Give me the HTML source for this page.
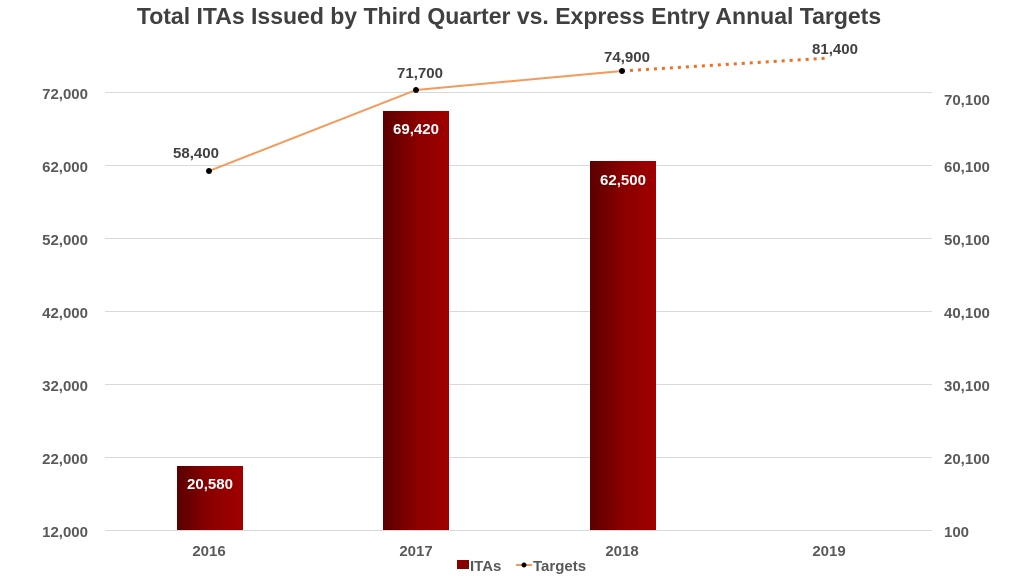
<!DOCTYPE html>
<html><head><meta charset="utf-8"><style>
body{margin:0;background:#fff;}
svg{display:block;font-family:"Liberation Sans",Arial,sans-serif;}
</style></head><body>
<svg width="1024" height="576" viewBox="0 0 1024 576" xmlns="http://www.w3.org/2000/svg">
<defs>
<linearGradient id="g" x1="0" x2="1" y1="0" y2="0">
<stop offset="0" stop-color="#5a0000"/><stop offset="0.5" stop-color="#8a0000"/><stop offset="1" stop-color="#a00000"/>
</linearGradient>
</defs>
<text x="509" y="24" text-anchor="middle" font-size="23" font-weight="bold" fill="#404040">Total ITAs Issued by Third Quarter vs. Express Entry Annual Targets</text>
<g stroke="#d9d9d9" stroke-width="1">
<line x1="105" x2="932" y1="92.5" y2="92.5"/>
<line x1="105" x2="932" y1="165.5" y2="165.5"/>
<line x1="105" x2="932" y1="238.5" y2="238.5"/>
<line x1="105" x2="932" y1="311.5" y2="311.5"/>
<line x1="105" x2="932" y1="384.5" y2="384.5"/>
<line x1="105" x2="932" y1="457.5" y2="457.5"/>
<line x1="105" x2="932" y1="530.5" y2="530.5"/>
</g>
<g font-size="15" font-weight="bold" fill="#595959" text-anchor="end">
<text x="88" y="99">72,000</text><text x="88" y="172">62,000</text><text x="88" y="245">52,000</text>
<text x="88" y="318">42,000</text><text x="88" y="391">32,000</text><text x="88" y="464">22,000</text><text x="88" y="537">12,000</text>
</g>
<g font-size="15" font-weight="bold" fill="#595959" text-anchor="start">
<text x="944" y="105">70,100</text><text x="944" y="172">60,100</text><text x="944" y="245">50,100</text>
<text x="944" y="318">40,100</text><text x="944" y="391">30,100</text><text x="944" y="464">20,100</text><text x="944" y="537">100</text>
</g>
<g font-size="15" font-weight="bold" fill="#595959" text-anchor="middle">
<text x="209" y="556">2016</text><text x="416" y="556">2017</text><text x="622" y="556">2018</text><text x="829" y="556">2019</text>
</g>
<rect x="177" y="466" width="66" height="64" fill="url(#g)"/>
<rect x="383" y="111" width="66" height="419" fill="url(#g)"/>
<rect x="590" y="161" width="66" height="369" fill="url(#g)"/>
<g font-size="15" font-weight="bold" fill="#fff" text-anchor="middle">
<text x="210" y="489">20,580</text><text x="416" y="134">69,420</text><text x="623" y="185">62,500</text>
</g>
<polyline points="209,171 416,90 622,71" fill="none" stroke="#f49a5a" stroke-width="2"/>
<line x1="622" y1="71" x2="829" y2="58" stroke="#f07020" stroke-width="3" stroke-dasharray="3,5"/>
<g fill="#000"><circle cx="209" cy="171" r="3"/><circle cx="416" cy="90" r="3"/><circle cx="622" cy="71" r="3"/></g>
<g font-size="15" font-weight="bold" fill="#404040" text-anchor="middle">
<text x="196" y="158">58,400</text><text x="420" y="78">71,700</text><text x="627" y="62">74,900</text><text x="835" y="54">81,400</text>
</g>
<rect x="457" y="560" width="12" height="9" fill="#8a0000"/>
<text x="470" y="571" font-size="15" font-weight="bold" fill="#595959">ITAs</text>
<line x1="516" y1="565" x2="532" y2="565" stroke="#f49a5a" stroke-width="2"/>
<circle cx="524" cy="565" r="2.5" fill="#000"/>
<text x="533" y="571" font-size="15" font-weight="bold" fill="#595959">Targets</text>
</svg>
</body></html>
